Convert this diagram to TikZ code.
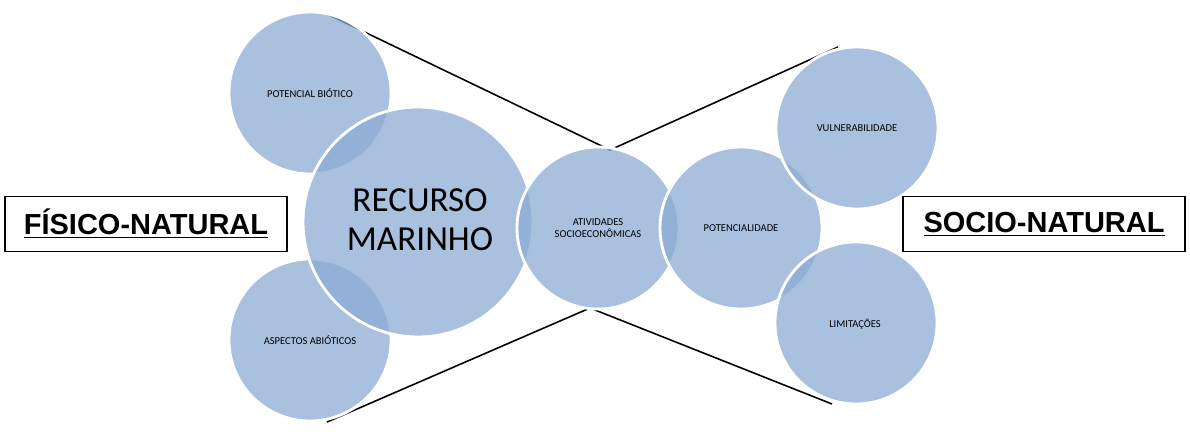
\documentclass[tikz,border=0pt]{standalone}
\usepackage{fontspec}
\setmainfont{Carlito}
\newfontfamily\arialb{Liberation Sans}
\begin{document}
\begin{tikzpicture}[x=0.02cm,y=-0.02cm,
  bub/.style={circle,fill={rgb,255:red,140;green,172;blue,212},fill opacity=0.75,draw=white,line width=1.6pt,text opacity=1,text=black},
  big/.style={font=\fontsize{6}{7}\selectfont,align=center},
  boxlab/.style={draw=black,line width=0.9pt,minimum width=282*0.02cm,minimum height=55*0.02cm,font=\arialb\bfseries\fontsize{16.5}{18}\selectfont}]
\useasboundingbox (0,0) rectangle (1190,435);
\coordinate (t1) at (327,14); \coordinate (m1) at (610,150); \coordinate (e1) at (838,47);
\coordinate (t2) at (327,422); \coordinate (m2) at (590,308); \coordinate (e2) at (832,404);
\draw[line width=0.9pt] (t1)--(m1)--(e1);
\draw[line width=0.9pt] (t2)--(m2)--(e2);
\node[bub,minimum size=162*0.02cm] (pb) at (310,93) {};
\node[bub,minimum size=162*0.02cm] (aa) at (310,340) {};
\node[bub,minimum size=230*0.02cm] (rm) at (418,222) {};
\node[bub,minimum size=162*0.02cm] (at) at (598,228) {};
\node[bub,minimum size=162*0.02cm] (po) at (741,228) {};
\node[bub,minimum size=162*0.02cm] (vu) at (857,128) {};
\node[bub,minimum size=162*0.02cm] (li) at (856,323) {};
\node[big] at (310,93) {POTENCIAL BIÓTICO};
\node[big] at (310,340) {ASPECTOS ABIÓTICOS};
\node[align=center,font=\fontsize{20}{22}\selectfont] at (420,220) {RECURSO\\MARINHO};
\node[big] at (598,228) {ATIVIDADES\\SOCIOECONÔMICAS};
\node[big] at (741,228) {POTENCIALIDADE};
\node[big] at (857,128) {VULNERABILIDADE};
\node[big] at (855,324) {LIMITAÇÕES};
\node[boxlab] (fn) at (146,224) {\underline{FÍSICO-NATURAL}};
\node[boxlab] (sn) at (1044,224) {\underline{SOCIO-NATURAL}};
\end{tikzpicture}
\end{document}
